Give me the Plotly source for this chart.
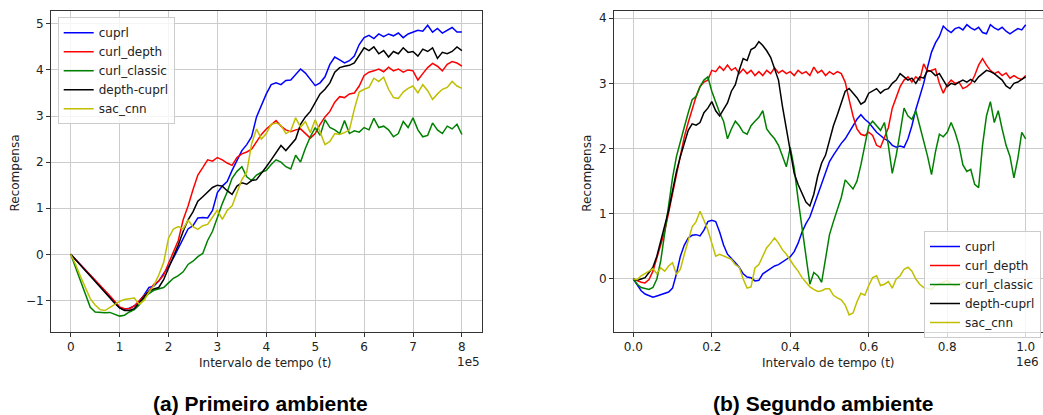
import plotly.graph_objects as go

# ---------------- data: (a) Primeiro ambiente ----------------
steps_a = [i * 10000 for i in range(81)]  # 0 .. 8e5
cuprl_a = [0, -0.11, -0.23, -0.34, -0.46, -0.57, -0.68, -0.80, -0.92, -1.05,
           -1.16, -1.19, -1.17, -1.12, -1.02, -0.88, -0.72, -0.69, -0.58, -0.42,
           -0.27, -0.08, 0.12, 0.34, 0.55, 0.62, 0.79, 0.80, 0.79, 0.95,
           1.34, 1.48, 1.58, 1.82, 2.05, 2.25, 2.38, 2.55, 2.98, 3.25,
           3.48, 3.68, 3.72, 3.68, 3.77, 3.78, 3.90, 4.02, 3.93, 3.80,
           3.66, 3.72, 3.85, 4.12, 4.28, 4.22, 4.15, 4.20, 4.30, 4.55,
           4.70, 4.75, 4.68, 4.78, 4.72, 4.78, 4.74, 4.80, 4.70, 4.78,
           4.82, 4.86, 4.84, 4.97, 4.82, 4.90, 4.80, 4.86, 4.92, 4.82, 4.82]
curl_depth_a = [0, -0.11, -0.22, -0.33, -0.44, -0.56, -0.67, -0.78, -0.90, -1.02,
                -1.14, -1.18, -1.18, -1.12, -1.00, -0.90, -0.80, -0.65, -0.58, -0.45,
                -0.20, 0.05, 0.30, 0.75, 1.05, 1.40, 1.72, 1.88, 2.05, 2.02,
                2.10, 2.05, 1.98, 1.93, 2.10, 2.18, 2.22, 2.28, 2.45, 2.60,
                2.72, 2.82, 2.90, 2.78, 2.70, 2.66, 2.70, 2.72, 2.62, 2.52,
                2.62, 2.82, 2.98, 3.10, 3.30, 3.42, 3.40, 3.48, 3.50, 3.65,
                3.88, 3.95, 3.98, 4.02, 3.96, 4.06, 3.98, 4.02, 3.95, 4.00,
                3.98, 3.78, 3.92, 4.05, 4.14, 4.08, 3.98, 4.12, 4.18, 4.15, 4.08]
curl_classic_a = [0, -0.28, -0.58, -0.88, -1.15, -1.25, -1.26, -1.27, -1.26, -1.30,
                  -1.34, -1.32, -1.25, -1.20, -1.10, -0.95, -0.85, -0.78, -0.75, -0.72,
                  -0.62, -0.52, -0.46, -0.38, -0.22, -0.15, -0.05, 0.02, 0.30, 0.50,
                  0.80, 1.10, 1.35, 1.65, 1.80, 1.90, 1.68, 1.60, 1.72, 1.78,
                  1.82, 1.95, 2.05, 2.00, 1.90, 1.85, 2.15, 2.00, 2.30, 2.55,
                  2.75, 2.58, 2.92, 2.75, 2.70, 2.62, 2.90, 2.62, 2.68, 2.65,
                  2.75, 2.70, 2.95, 2.75, 2.78, 2.70, 2.55, 2.62, 2.88, 2.75,
                  2.96, 2.70, 2.55, 2.58, 2.85, 2.70, 2.62, 2.78, 2.72, 2.82, 2.60]
depth_cuprl_a = [0, -0.12, -0.24, -0.36, -0.48, -0.60, -0.71, -0.83, -0.95, -1.06,
                 -1.16, -1.22, -1.22, -1.18, -1.05, -0.92, -0.80, -0.75, -0.72, -0.55,
                 -0.30, -0.05, 0.20, 0.50, 0.75, 0.92, 1.15, 1.25, 1.35, 1.45,
                 1.50, 1.48, 1.38, 1.30, 1.48, 1.55, 1.52, 1.60, 1.62, 1.75,
                 1.90, 2.05, 2.22, 2.36, 2.25, 2.38, 2.50, 2.82, 2.98, 3.10,
                 3.28, 3.48, 3.58, 3.72, 3.95, 4.05, 4.08, 4.10, 4.15, 4.32,
                 4.48, 4.42, 4.50, 4.35, 4.42, 4.28, 4.40, 4.35, 4.48, 4.38,
                 4.40, 4.30, 4.45, 4.40, 4.48, 4.25, 4.38, 4.35, 4.40, 4.50, 4.42]
sac_cnn_a = [0, -0.22, -0.48, -0.72, -0.96, -1.10, -1.20, -1.22, -1.15, -1.08,
             -1.02, -0.98, -0.96, -0.95, -1.08, -1.00, -0.82, -0.68, -0.45, -0.18,
             0.35, 0.55, 0.60, 0.55, 0.74, 0.60, 0.54, 0.62, 0.65, 0.80,
             0.96, 0.76, 0.95, 1.05, 1.35, 1.62, 1.78, 2.40, 2.72, 2.50,
             2.62, 2.82, 2.85, 2.80, 2.62, 2.68, 2.96, 2.76, 2.88, 2.64,
             2.92, 2.65, 2.38, 2.45, 2.62, 2.60, 2.64, 2.70, 3.15, 3.52,
             3.58, 3.62, 3.82, 3.75, 3.84, 3.58, 3.40, 3.38, 3.52, 3.60,
             3.65, 3.50, 3.68, 3.55, 3.36, 3.48, 3.58, 3.62, 3.75, 3.65, 3.60]

# ---------------- data: (b) Segundo ambiente ----------------
steps_b = [i * 10000 for i in range(101)]  # 0 .. 1e6
cuprl_b = [0.00, -0.10, -0.18, -0.23, -0.25, -0.28, -0.26, -0.24, -0.22, -0.20,
           -0.14, 0.08, 0.35, 0.52, 0.63, 0.67, 0.68, 0.66, 0.75, 0.88,
           0.90, 0.88, 0.72, 0.52, 0.38, 0.32, 0.25, 0.18, 0.08, 0.03,
           0.02, -0.03, -0.02, 0.08, 0.12, 0.15, 0.20, 0.22, 0.26, 0.30,
           0.34, 0.42, 0.55, 0.72, 0.85, 0.95, 1.12, 1.30, 1.45, 1.62,
           1.80, 1.90, 2.00, 2.08, 2.15, 2.25, 2.35, 2.45, 2.52, 2.45,
           2.40, 2.32, 2.25, 2.20, 2.15, 2.12, 2.05, 2.02, 2.04, 2.02,
           2.15, 2.35, 2.60, 2.80, 3.00, 3.25, 3.48, 3.62, 3.72, 3.88,
           3.82, 3.78, 3.84, 3.86, 3.82, 3.90, 3.85, 3.82, 3.86, 3.78,
           3.76, 3.90, 3.85, 3.82, 3.86, 3.80, 3.76, 3.80, 3.84, 3.82, 3.90]
curl_depth_b = [0.00, -0.03, -0.05, -0.06, -0.01, 0.12, 0.32, 0.50, 0.73, 1.02,
                1.32, 1.60, 1.90, 2.18, 2.40, 2.62, 2.80, 2.95, 3.02, 3.05,
                3.20, 3.18, 3.26, 3.20, 3.28, 3.20, 3.24, 3.15, 3.22, 3.15,
                3.20, 3.12, 3.18, 3.12, 3.20, 3.15, 3.24, 3.16, 3.20, 3.15,
                3.18, 3.12, 3.20, 3.15, 3.18, 3.12, 3.25, 3.16, 3.20, 3.12,
                3.18, 3.14, 3.18, 3.15, 3.02, 2.75, 2.50, 2.30, 2.22, 2.20,
                2.25, 2.20, 2.05, 2.02, 2.18, 2.32, 2.62, 2.78, 2.95, 3.05,
                3.10, 3.02, 3.10, 3.05, 3.30, 3.18, 3.20, 3.22, 3.00, 2.85,
                2.98, 3.05, 3.00, 3.02, 2.92, 2.95, 3.00, 3.12, 3.28, 3.38,
                3.28, 3.20, 3.15, 3.18, 3.12, 3.16, 3.08, 3.12, 3.08, 3.06, 3.12]
curl_classic_b = [0.00, -0.08, -0.13, -0.15, -0.16, -0.13, 0.00, 0.28, 0.70, 1.15,
                  1.55, 1.88, 2.12, 2.33, 2.55, 2.75, 2.80, 2.95, 3.05, 3.10,
                  2.88, 2.70, 2.55, 2.42, 2.15, 2.30, 2.42, 2.35, 2.25, 2.22,
                  2.35, 2.42, 2.48, 2.58, 2.30, 2.22, 2.15, 2.05, 1.90, 1.72,
                  2.02, 1.70, 1.22, 0.80, 0.30, -0.08, 0.10, 0.05, -0.05, 0.30,
                  0.68, 0.88, 1.08, 1.25, 1.52, 1.45, 1.38, 1.50, 1.75, 2.05,
                  2.35, 2.42, 2.35, 2.28, 2.40, 2.05, 1.62, 1.90, 2.25, 2.62,
                  2.50, 2.45, 2.58, 2.35, 2.10, 1.88, 1.60, 1.95, 2.22, 2.18,
                  2.25, 2.40, 2.25, 2.05, 1.75, 1.65, 1.68, 1.45, 1.40, 2.05,
                  2.50, 2.72, 2.40, 2.58, 2.30, 2.05, 1.88, 1.55, 1.85, 2.25, 2.15]
depth_cuprl_b = [0.00, -0.02, 0.00, 0.02, 0.10, 0.18, 0.35, 0.58, 0.78, 1.05,
                 1.35, 1.65, 1.88, 2.08, 2.28, 2.38, 2.36, 2.40, 2.55, 2.62,
                 2.72, 2.58, 2.50, 2.60, 2.70, 2.88, 2.98, 3.20, 3.38, 3.35,
                 3.52, 3.55, 3.64, 3.58, 3.50, 3.40, 3.22, 3.05, 2.65, 2.30,
                 1.98, 1.62, 1.45, 1.32, 1.18, 1.12, 1.30, 1.58, 1.78, 1.90,
                 2.12, 2.35, 2.52, 2.70, 2.88, 2.92, 2.85, 2.78, 2.68, 2.72,
                 2.85, 2.88, 2.92, 2.85, 2.90, 2.92, 3.00, 3.05, 3.15, 3.10,
                 3.05, 3.08, 3.00, 3.10, 3.08, 3.20, 3.18, 3.12, 3.15, 3.05,
                 2.95, 3.00, 2.98, 3.02, 3.05, 3.02, 3.06, 3.02, 3.10, 3.15,
                 3.20, 3.18, 3.15, 3.10, 3.05, 2.96, 2.92, 3.00, 3.02, 3.06, 3.10]
steps_b_sac = [i * 10000 for i in range(86)]  # 0 .. 0.85e6
sac_cnn_b = [0.00, -0.01, 0.05, 0.08, 0.12, 0.16, 0.08, 0.17, 0.12, 0.20,
             0.25, 0.07, 0.15, 0.38, 0.58, 0.80, 0.88, 1.04, 0.90, 0.75,
             0.55, 0.35, 0.38, 0.35, 0.32, 0.30, 0.22, 0.18, 0.00, -0.14,
             -0.12, 0.17, 0.22, 0.35, 0.48, 0.55, 0.63, 0.55, 0.45, 0.38,
             0.28, 0.20, 0.12, 0.02, -0.05, -0.12, -0.16, -0.19, -0.18, -0.15,
             -0.15, -0.25, -0.29, -0.32, -0.40, -0.55, -0.52, -0.35, -0.22, -0.25,
             -0.10, 0.02, 0.05, -0.10, -0.08, -0.04, -0.14, 0.00, 0.05, 0.15,
             0.18, 0.12, 0.00, -0.08, -0.13, -0.14, -0.16, -0.10, -0.08, -0.05,
             -0.02, -0.08, -0.11, -0.08, -0.05, -0.04]

names = ["cuprl", "curl_depth", "curl_classic", "depth-cuprl", "sac_cnn"]
colors = ["#0000ff", "#ff0000", "#008000", "#000000", "#bfbf00"]

xticks_a = [0, 100000, 200000, 300000, 400000, 500000, 600000, 700000, 800000]
xtext_a = ["0", "1", "2", "3", "4", "5", "6", "7", "8"]
yticks_a = [-1, 0, 1, 2, 3, 4, 5]
ytext_a = ["\u22121", "0", "1", "2", "3", "4", "5"]
xticks_b = [0, 200000, 400000, 600000, 800000, 1000000]
xtext_b = ["0.0", "0.2", "0.4", "0.6", "0.8", "1.0"]
yticks_b = [0, 1, 2, 3, 4]
ytext_b = ["0", "1", "2", "3", "4"]

W, H = 1043, 415
fig = go.Figure()

series_a = [(steps_a, cuprl_a), (steps_a, curl_depth_a), (steps_a, curl_classic_a),
            (steps_a, depth_cuprl_a), (steps_a, sac_cnn_a)]
series_b = [(steps_b, cuprl_b), (steps_b, curl_depth_b), (steps_b, curl_classic_b),
            (steps_b, depth_cuprl_b), (steps_b_sac, sac_cnn_b)]

for (xs, ys), n, c in zip(series_a, names, colors):
    fig.add_trace(go.Scatter(x=xs, y=ys, mode="lines", name=n, xaxis="x", yaxis="y",
                             line=dict(color=c, width=1.5), legend="legend"))
for (xs, ys), n, c in zip(series_b, names, colors):
    fig.add_trace(go.Scatter(x=xs, y=ys, mode="lines", name=n, xaxis="x2", yaxis="y2",
                             line=dict(color=c, width=1.5), legend="legend2"))

font = dict(family="DejaVu Sans", size=12, color="#222222")
ax_common = dict(showline=True, mirror=True, linecolor="#333333", linewidth=1,
                 ticks="outside", ticklen=4, tickcolor="#333333", tickwidth=1,
                 showgrid=True, gridcolor="#cccccc", gridwidth=1, zeroline=False,
                 tickfont=font, tickmode="array")

y_dom = [1 - 332 / H, 1 - 11 / H]
fig.update_layout(
    width=W, height=H, margin=dict(l=0, r=0, t=0, b=0),
    paper_bgcolor="white", plot_bgcolor="white", font=font,
    xaxis=dict(domain=[51 / W, 482 / W], range=[-40300, 841100], anchor="y",
               tickvals=xticks_a, ticktext=xtext_a, **ax_common),
    yaxis=dict(domain=y_dom, range=[-1.685, 5.278], anchor="x",
               tickvals=yticks_a, ticktext=ytext_a, **ax_common),
    xaxis2=dict(domain=[614 / W, 1.0], range=[-49200, 1044100], anchor="y2",
                tickvals=xticks_b, ticktext=xtext_b, **ax_common),
    yaxis2=dict(domain=y_dom, range=[-0.813, 4.110], anchor="x2",
                tickvals=yticks_b, ticktext=ytext_b, **ax_common),
    legend=dict(x=57.7 / W, y=1 - 17.3 / H, xanchor="left", yanchor="top",
                bgcolor="rgba(255,255,255,0.8)", bordercolor="#cccccc", borderwidth=1,
                font=font, tracegroupgap=0),
    legend2=dict(x=924 / W, y=1 - 231 / H, xanchor="left", yanchor="top",
                 bgcolor="rgba(255,255,255,0.8)", bordercolor="#cccccc", borderwidth=1,
                 font=font, tracegroupgap=0),
    showlegend=True,
)

def ann(text, x, y, xanchor="center", yanchor="middle", angle=0, f=font):
    fig.add_annotation(text=text, x=x / W, y=1 - y / H, xref="paper", yref="paper",
                       xanchor=xanchor, yanchor=yanchor, showarrow=False,
                       textangle=angle, font=f)

ann("Recompensa", 14.5, 173, angle=-90)
ann("Recompensa", 586.7, 173, angle=-90)
ann("Intervalo de tempo (t)", 265.8, 362.7)
ann("Intervalo de tempo (t)", 828.7, 362.7)
ann("1e5", 481.5, 361.7, xanchor="right")
ann("1e6", 1041, 361.7, xanchor="right")
cap_font = dict(family="Liberation Sans", size=21, color="#000000")
ann("<b>(a) Primeiro ambiente</b>", 260.4, 403, f=cap_font)
ann("<b>(b) Segundo ambiente</b>", 823, 403, f=cap_font)

fig.write_html("out.html")
